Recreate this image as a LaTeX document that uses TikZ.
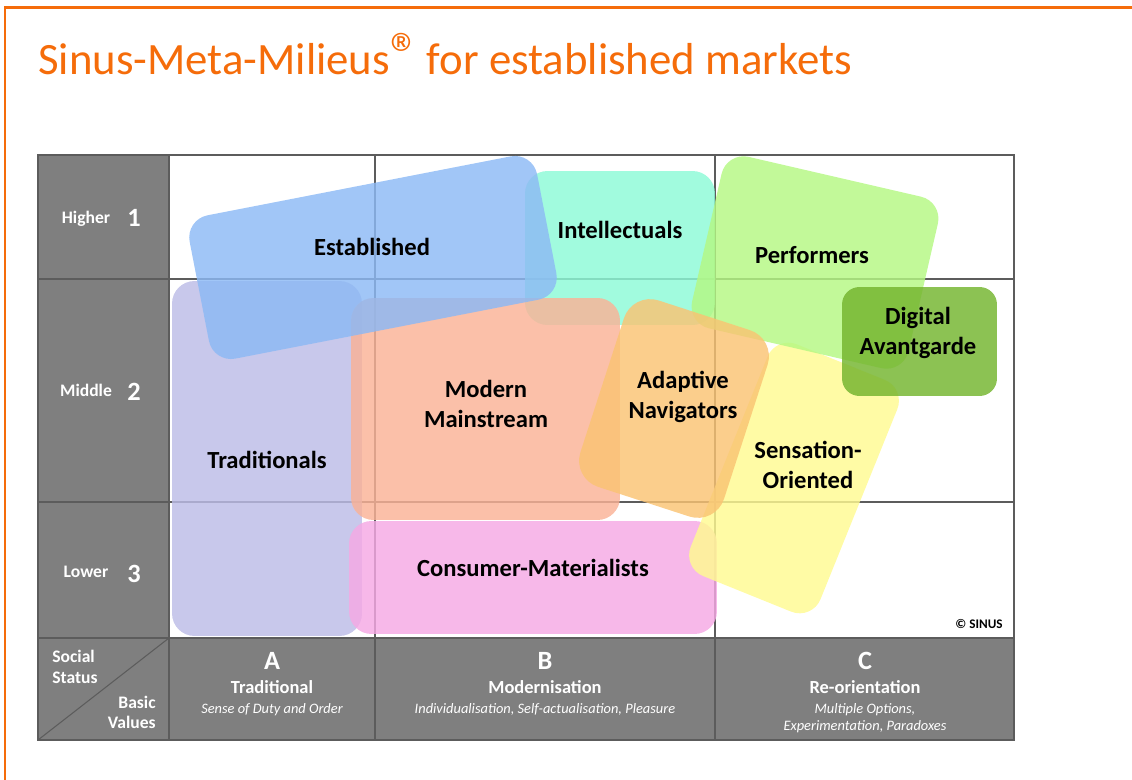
\documentclass[tikz,border=0pt]{standalone}
\usepackage{fontspec}
\setmainfont{Carlito}

\definecolor{sinusorange}{RGB}{245,108,10}
\definecolor{panelgray}{RGB}{127,127,127}
\definecolor{linegray}{RGB}{92,92,92}
\definecolor{tradcol}{RGB}{188,188,230}
\definecolor{estcol}{RGB}{140,185,245}
\definecolor{intcol}{RGB}{140,250,215}
\definecolor{perfcol}{RGB}{180,248,130}
\definecolor{digcol}{RGB}{115,180,45}
\definecolor{mmcol}{RGB}{250,178,150}
\definecolor{adacol}{RGB}{250,195,115}
\definecolor{senscol}{RGB}{255,250,145}
\definecolor{cmcol}{RGB}{245,168,228}

\tikzset{
    milieu/.style={draw=none,fill opacity=0.82,rounded corners=0.45cm,inner sep=0pt},
    mlabel/.style={font=\fontsize{14}{17}\selectfont\bfseries,align=center,inner sep=0pt},
    rowlabel/.style={font=\fontsize{10}{12}\selectfont\bfseries,text=white,anchor=base,inner sep=0pt},
    rownum/.style={font=\fontsize{15}{18}\selectfont\bfseries,text=white,anchor=base,inner sep=0pt},
    colletter/.style={font=\fontsize{15}{18}\selectfont\bfseries,text=white,anchor=base,inner sep=0pt},
    colname/.style={font=\fontsize{10.5}{12}\selectfont\bfseries,text=white,anchor=base,inner sep=0pt},
    coldesc/.style={font=\fontsize{8.2}{10}\selectfont\itshape,text=white,anchor=base,inner sep=0pt}
}

\begin{document}
\begin{tikzpicture}[x=0.02cm,y=-0.02cm]
    \useasboundingbox (0,0) rectangle (1132,780);

    % slide frame and title
    \draw[sinusorange,line width=1.2pt] (5,780) -- (5,7.5) -- (1132,7.5);
    \node[anchor=base west,inner sep=0pt,text=sinusorange,font=\fontsize{25.5}{30}\selectfont] (title) at (38,75)
        {Sinus-Meta-Milieus{\fontsize{34}{34}\selectfont\textregistered}\kern-2pt{} for established markets};

    % grid
    \fill[panelgray] (38,155) rectangle (169,740);
    \fill[panelgray] (169,638) rectangle (1014,740);
    \draw[linegray,line width=0.6pt] (38,279) -- (1014,279);
    \draw[linegray,line width=0.6pt] (38,502) -- (1014,502);
    \draw[linegray,line width=0.6pt] (38,638) -- (1014,638);
    \draw[linegray,line width=0.6pt] (169,155) -- (169,740);
    \draw[linegray,line width=0.6pt] (375,155) -- (375,740);
    \draw[linegray,line width=0.6pt] (715,155) -- (715,740);
    \draw[linegray,line width=0.6pt] (38,740) -- (169,638);
    \draw[linegray,line width=1pt] (38,155) rectangle (1014,740);

    % milieu areas
    \begin{scope}[every node/.style={milieu}]
        \node[fill=tradcol,minimum width=3.8cm,minimum height=7.1cm] (trad) at (267,458.5) {};
        \node[fill=intcol,minimum width=3.8cm,minimum height=3.08cm] (int) at (620,248) {};
        \node[fill=mmcol,minimum width=5.38cm,minimum height=4.44cm] (mm) at (485.5,409) {};
        \node[fill=estcol,minimum width=7.08cm,minimum height=2.92cm,rotate=11] (est) at (373,257.5) {};
        \node[fill=cmcol,minimum width=7.36cm,minimum height=2.26cm] (cm) at (533,577.5) {};
        \node[fill=senscol,minimum width=2.8cm,minimum height=5cm,rotate=-22] (sens) at (794,478) {};
        \node[fill=perfcol,minimum width=4.44cm,minimum height=3.52cm,rotate=-13] (perf) at (815,262.5) {};
        \node[fill=adacol,minimum width=3.02cm,minimum height=3.92cm,rotate=-18,rounded corners=0.55cm] (ada) at (674,408.5) {};
        \node[fill=digcol,minimum width=3.1cm,minimum height=2.18cm,rounded corners=0.35cm] (dig) at (919.5,341.5) {};
    \end{scope}

    % milieu names
    \begin{scope}[every node/.style={mlabel}]
        \node (est-l) at (372,247) {Established};
        \node (int-l) at (620,230) {Intellectuals};
        \node (perf-l) at (812,255) {Performers};
        \node (dig-l) at (918,333) {Digital\\Avantgarde};
        \node (mm-l) at (486,404) {Modern\\Mainstream};
        \node (ada-l) at (683,397) {Adaptive\\Navigators};
        \node (sens-l) at (808,465) {Sensation-\\Oriented};
        \node (trad-l) at (267,460) {Traditionals};
        \node (cm-l) at (533,568) {Consumer-Materialists};
    \end{scope}

    % social status
    \node[rowlabel] (high) at (86,224) {Higher};
    \node[rownum] (high-n) at (134,227) {1};
    \node[rowlabel] (mid) at (86,397) {Middle};
    \node[rownum] (mid-n) at (134,400) {2};
    \node[rowlabel] (low) at (86,577) {Lower};
    \node[rownum] (low-n) at (134,582) {3};

    % corner cell
    \node[rowlabel,anchor=base west] (soc) at (52,662) {Social};
    \node[rowlabel,anchor=base west] (stat) at (52,683) {Status};
    \node[rowlabel,anchor=base east] (bas) at (156,708) {Basic};
    \node[rowlabel,anchor=base east] (val) at (156,728) {Values};

    % basic values
    \node[colletter] (a) at (272,669) {A};
    \node[colname] (a-n) at (272,693) {Traditional};
    \node[coldesc] (a-d) at (272,713) {Sense of Duty and Order};
    \node[colletter] (b) at (545,669) {B};
    \node[colname] (b-n) at (545,693) {Modernisation};
    \node[coldesc] (b-d) at (545,713) {Individualisation, Self-actualisation, Pleasure};
    \node[colletter] (c) at (865,669) {C};
    \node[colname] (c-n) at (865,693) {Re-orientation};
    \node[coldesc] (c-d1) at (865,713) {Multiple Options,};
    \node[coldesc] (c-d2) at (865,730) {Experimentation, Paradoxes};

    \node[anchor=base east,inner sep=0pt,font=\fontsize{7.5}{9}\selectfont\bfseries] (copy) at (1003,628) {\textcopyright{} SINUS};
\end{tikzpicture}
\end{document}
